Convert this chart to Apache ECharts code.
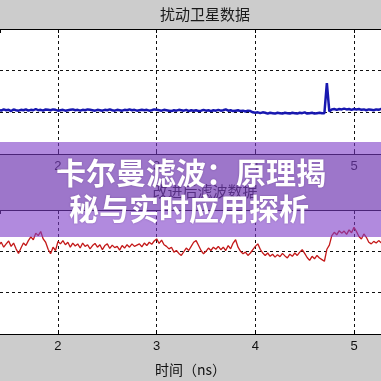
<!DOCTYPE html>
<html><head><meta charset="utf-8">
<script src="https://cdn.jsdelivr.net/npm/echarts@6/dist/echarts.min.js"></script>
<style>html,body{margin:0;padding:0;background:#cccccc;}#c{width:381px;height:381px;}</style>
</head><body><div id="c"></div>
<script>
// sampling grid (ns)
var sampleStart = 1.4;
var sampleStep = 0.025;
var xRange = [1.4124, 5.2736];
var topTitle = '扰动卫星数据';
var bottomTitle = '改进后滤波数据';
var xName = '时间（ns）';
var bannerLines = ['卡尔曼滤波：原理揭', '秘与实时应用探析'];

var disturbed = [
1.06,1.04,1.07,1.05,1.06,1.03,1.07,1.05,1.04,1.06,
1.05,1.07,1.04,1.06,1.05,1.08,1.05,1.06,1.04,1.07,
1.06,1.05,1.07,1.06,1.04,1.05,1.06,1.04,1.05,1.06,
1.07,1.05,1.06,1.04,1.06,1.05,1.07,1.06,1.05,1.04,
1.06,1.05,1.04,1.06,1.05,1.07,1.05,1.04,1.06,1.05,
1.04,1.06,1.05,1.07,1.05,1.06,1.04,1.05,1.06,1.05,
1.06,1.04,1.05,1.07,1.06,1.05,1.04,1.06,1.05,1.04,
1.03,1.05,1.04,1.06,1.05,1.04,1.06,1.03,1.05,1.04,
1.05,1.03,1.04,1.06,1.04,1.05,1.03,1.05,1.04,1.06,
1.04,1.05,1.07,1.04,1.05,1.03,1.04,1.05,1.03,1.04,
1.02,1.04,1.03,1.00,0.99,1.00,0.98,1.00,0.99,0.97,
0.99,0.98,0.97,0.99,0.98,0.97,0.99,0.98,0.97,0.99,
0.98,0.97,0.99,0.98,1.00,0.97,0.98,0.99,0.97,0.98,
0.99,0.98,0.98,
1.70,
1.02,
1.07,1.08,1.06,1.08,1.07,1.09,1.07,1.08,1.06,1.08,
1.07,1.08,1.06,1.07,1.05,1.07,1.06,1.05,1.07,1.06,1.08,1.07
];

var filtered = [
2.15,2.22,2.10,2.18, 2.25,2.12,2.20,2.06, 1.95,2.08,2.20,2.14,
2.26,2.35,2.28,2.44, 2.38,2.48,2.30,2.22, 2.05,1.94,2.10,2.02,
2.24,2.18,2.26,2.16, 2.22,2.10,2.20,2.13, 2.18,2.08,2.20,2.12,
2.16,2.06,2.14,2.19, 2.10,2.16,2.04,2.14, 2.18,2.07,2.15,2.09,
2.12,2.03,2.14,2.08, 2.16,2.10,2.18,2.12, 2.15,2.18,2.11,2.20,
2.14,2.22,2.17,2.25, 2.30,2.19,2.27,2.16, 2.12,2.06,2.10,1.98,
2.02,1.95,1.90,1.99, 2.08,2.02,2.12,2.22, 2.26,2.14,2.02,1.94,
2.00,2.08,2.02,2.10, 2.05,2.12,2.04,2.10, 2.02,2.14,2.06,2.20,
2.28,2.10,2.00,1.94, 1.98,1.90,1.96,2.04, 2.12,2.18,2.05,1.96,
1.90,1.96,1.88,1.93, 1.86,1.92,1.87,1.95, 1.89,1.84,1.93,1.88,
1.96,1.90,1.98,2.04, 1.95,1.85,1.78,1.88, 1.82,1.90,1.84,1.80,
1.76,2.05,2.15,2.38,
2.46,2.40,2.50,2.44, 2.49,2.41,2.52,2.45, 2.58,2.48,2.36,2.30,
2.42,2.34,2.22,2.18,
2.24,2.20,2.26,2.21,2.23
];

function pairs(vals){
  var out = [];
  for (var i = 0; i < vals.length; i++) out.push([+(sampleStart + i*sampleStep).toFixed(4), vals[i]]);
  return out;
}

var chart = echarts.init(document.getElementById('c'), null, {renderer:'canvas'});
var dashed = {show:true, showMinLine:false, showMaxLine:false, lineStyle:{color:'#111', type:[3,3], width:1}};
function xAx(idx){
  return {type:'value', gridIndex:idx, min:xRange[0], max:xRange[1], splitNumber:4, position:'bottom',
    axisLine:{show:true, onZero:false, lineStyle:{color:'#000', width:1}},
    axisTick:{show:true, inside:true, length:4, lineStyle:{color:'#000'}},
    axisLabel:{show:true, showMinLabel:false, showMaxLabel:false, color:'#111', fontSize:13, margin:6, fontFamily:'Liberation Sans'},
    splitLine:dashed,
    name: idx === 1 ? xName : '', nameLocation:'middle', nameGap:29,
    nameTextStyle:{color:'#111', fontSize:14, fontFamily:'Noto Sans CJK SC'}};
}
function xAxTop(idx){
  return {type:'value', gridIndex:idx, min:xRange[0], max:xRange[1], splitNumber:4, position:'top',
    axisLine:{show:true, onZero:false, lineStyle:{color:'#000', width:1}},
    axisTick:{show:true, inside:true, length:4, lineStyle:{color:'#000'}},
    axisLabel:{show:false}, splitLine:{show:false}};
}
function yAx(idx){
  return {type:'value', gridIndex:idx, min:0, max:3, interval:1,
    axisLine:{show:false}, axisTick:{show:false}, axisLabel:{show:false}, splitLine:dashed};
}
chart.setOption({
  animation:false,
  backgroundColor:'#cccccc',
  grid:[
    {left:0, top:29, width:381, height:125, show:true, backgroundColor:'#ffffff', borderWidth:0, outerBoundsMode:'none', containLabel:false},
    {left:0, top:210, width:381, height:124, show:true, backgroundColor:'#ffffff', borderWidth:0, outerBoundsMode:'none', containLabel:false}
  ],
  xAxis:[xAx(0), xAx(1), xAxTop(0), xAxTop(1)],
  yAxis:[yAx(0), yAx(1)],
  series:[
    {type:'line', xAxisIndex:0, yAxisIndex:0, data:pairs(disturbed), showSymbol:false,
     lineStyle:{color:'#1818b0', width:2.5}, z:3},
    {type:'line', xAxisIndex:1, yAxisIndex:1, data:pairs(filtered), showSymbol:false,
     lineStyle:{color:'#c41818', width:1.3}, z:3}
  ],
  graphic:[
    {type:'text', z:50, style:{text:topTitle, x:205, y:14, textAlign:'center', textVerticalAlign:'middle',
      fill:'#1a1a1a', font:'15px "Noto Sans CJK SC"'}},
    {type:'text', z:50, style:{text:bottomTitle, x:205, y:191, textAlign:'center', textVerticalAlign:'middle',
      fill:'#1a1a1a', font:'15px "Noto Sans CJK SC"'}},
    {type:'rect', z:100, shape:{x:0, y:142, width:381, height:95}, style:{fill:'rgba(125,60,200,0.6)'}},
    {type:'text', z:101, style:{text:bannerLines[0], x:191, y:173, textAlign:'center', textVerticalAlign:'middle',
      fill:'#ffffff', font:'bold 30px "Noto Sans CJK SC"', textShadowColor:'rgba(60,20,90,0.35)', textShadowBlur:2}},
    {type:'text', z:101, style:{text:bannerLines[1], x:189, y:209, textAlign:'center', textVerticalAlign:'middle',
      fill:'#ffffff', font:'bold 30px "Noto Sans CJK SC"', textShadowColor:'rgba(60,20,90,0.35)', textShadowBlur:2}}
  ]
});
</script></body></html>
